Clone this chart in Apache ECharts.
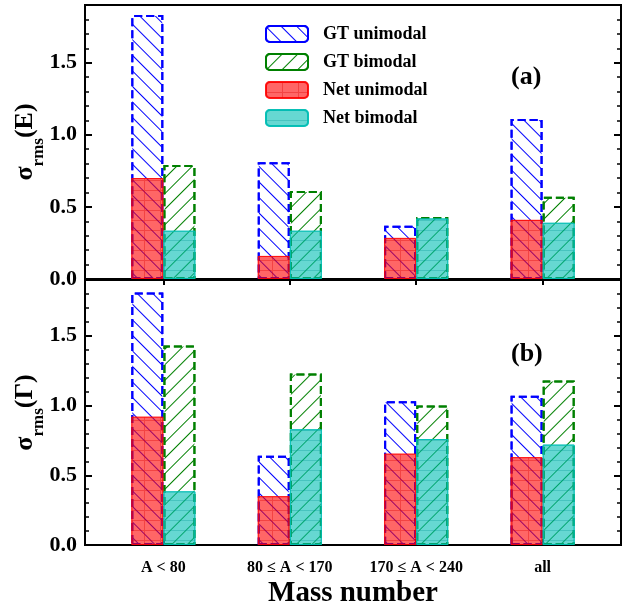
<!DOCTYPE html>
<html>
<head>
<meta charset="utf-8">
<script src="https://cdn.jsdelivr.net/npm/echarts@6/dist/echarts.min.js"></script>
<style>
  html, body { margin: 0; padding: 0; background: #fff; }
  #chart { width: 635px; height: 609px; }
</style>
</head>
<body>
<div id="chart"></div>
<script>
// mass ranges
const categories = ['A < 80', '80 ≤ A < 170', '170 ≤ A < 240', 'all'];

// panel (a): sigma_rms(E)
const gtUniE = [1.83, 0.81, 0.37, 1.11];
const gtBiE = [0.79, 0.61, 0.43, 0.57];
const netUniE = [0.70, 0.16, 0.285, 0.41];
const netBiE = [0.335, 0.335, 0.42, 0.39];

// panel (b): sigma_rms(Gamma)
const gtUniG = [1.81, 0.64, 1.03, 1.07];
const gtBiG = [1.43, 1.23, 1.00, 1.18];
const netUniG = [0.92, 0.35, 0.655, 0.63];
const netBiG = [0.385, 0.83, 0.76, 0.72];

const FONT = 'Liberation Serif';
const chart = echarts.init(document.getElementById('chart'));

const shift = 0.127;
const pts = (vals, dx) => vals.map((v, i) => [i + dx, v]);

const gtUniStyle = {
    color: 'rgba(255,255,255,0)',
    borderColor: '#0000ff',
    borderWidth: 2,
    borderType: [8, 4],
    decal: { symbol: 'rect', symbolSize: 1, color: '#0000ff', dashArrayX: [1, 0], dashArrayY: [1, 10], rotation: Math.PI / 4 }
};
const gtBiStyle = {
    color: 'rgba(255,255,255,0)',
    borderColor: '#008000',
    borderWidth: 2,
    borderType: [8, 4],
    decal: { symbol: 'rect', symbolSize: 1, color: '#008000', dashArrayX: [1, 0], dashArrayY: [1, 10], rotation: -Math.PI / 4 }
};
const netUniStyle = {
    color: 'rgba(255,0,0,0.6)',
    borderColor: 'rgba(255,0,0,0.7)',
    borderWidth: 1,
    decal: { symbol: 'path://M0,0H16V1H0Z M0,0H1V10H0Z', symbolSize: 1, symbolKeepAspect: false, color: 'rgba(220,0,0,0.35)', dashArrayX: [16, 0], dashArrayY: [10, 0] }
};
const netBiStyle = {
    color: 'rgba(0,190,180,0.6)',
    borderColor: 'rgba(0,190,180,0.8)',
    borderWidth: 1,
    decal: { symbol: 'rect', symbolSize: 1, color: 'rgba(0,150,150,0.3)', dashArrayX: [1, 0], dashArrayY: [1, 9] }
};

function barSeries(name, vals, dx, style, idx) {
    return {
        name: name,
        type: 'bar',
        xAxisIndex: idx,
        yAxisIndex: idx * 2,
        data: pts(vals, dx),
        barWidth: 32,
        barGap: '-100%',
        itemStyle: style,
        emphasis: { disabled: true },
        animation: false
    };
}

function yAxisFor(grid, right, title) {
    return {
        type: 'value',
        gridIndex: grid,
        position: right ? 'right' : 'left',
        min: 0,
        max: 1.9,
        interval: 0.5,
        axisLine: { show: true, onZero: false, lineStyle: { color: '#000', width: 2 } },
        axisTick: { show: true, inside: true, length: 7, lineStyle: { color: '#000', width: 2 } },
        minorTick: { show: true, splitNumber: 5, length: 4, lineStyle: { color: '#000', width: 1.5 } },
        splitLine: { show: false },
        axisLabel: {
            show: !right,
            showMaxLabel: false,
            margin: 8,
            color: '#000',
            fontFamily: FONT,
            fontWeight: 'bold',
            fontSize: 22,
            formatter: (v) => v.toFixed(1)
        },
        name: right ? '' : title,
        nameLocation: 'middle',
        nameGap: 43,
        nameMoveOverlap: false,
        nameRotate: 90,
        nameTextStyle: {
            color: '#000',
            fontFamily: FONT,
            fontWeight: 'bold',
            rich: {
                s: { fontSize: 26, fontFamily: FONT, fontWeight: 'bold', color: '#000', lineHeight: 30, verticalAlign: 'top' },
                sub: { fontSize: 17, fontFamily: FONT, fontWeight: 'bold', color: '#000', lineHeight: 17, padding: [18, 0, 0, 0], verticalAlign: 'top' }
            }
        }
    };
}

function xAxisFor(grid, bottom) {
    return {
        type: 'value',
        gridIndex: grid,
        min: -0.62,
        max: 3.62,
        axisLine: { show: true, onZero: false, lineStyle: { color: '#000', width: 2 } },
        axisTick: { show: true, inside: bottom, length: 6, lineStyle: { color: '#000', width: 2 }, customValues: [0, 1, 2, 3] },
        splitLine: { show: false },
        axisLabel: {
            show: bottom,
            customValues: [0, 1, 2, 3],
            margin: 15,
            color: '#000',
            fontFamily: FONT,
            fontWeight: 'bold',
            fontSize: 16,
            formatter: (v) => categories[Math.round(v)]
        },
        name: bottom ? 'Mass number' : '',
        nameLocation: 'middle',
        nameGap: 34,
        nameTextStyle: { color: '#000', fontFamily: FONT, fontWeight: 'bold', fontSize: 29 }
    };
}

const option = {
    animation: false,
    grid: [
        { left: 85, right: 14, top: 5, height: 274, show: true, borderColor: '#000', borderWidth: 2 },
        { left: 85, right: 14, top: 280, height: 275, show: true, borderColor: '#000', borderWidth: 2 }
    ],
    xAxis: [xAxisFor(0, false), xAxisFor(1, true)],
    yAxis: [
        yAxisFor(0, false, '{s|σ}{sub|rms}{s|(E)}'),
        yAxisFor(0, true),
        yAxisFor(1, false, '{s|σ}{sub|rms}{s|(Γ)}'),
        yAxisFor(1, true)
    ],
    legend: {
        orient: 'vertical',
        left: 260,
        top: 20,
        itemWidth: 42,
        itemHeight: 16,
        itemGap: 10,
        data: ['GT unimodal', 'GT bimodal', 'Net unimodal', 'Net bimodal'],
        textStyle: { color: '#000', fontFamily: FONT, fontWeight: 'bold', fontSize: 18, padding: [0, 0, 0, 10] }
    },
    graphic: [
        { type: 'text', left: 511, top: 64, style: { text: '(a)', font: 'bold 26px "Liberation Serif"', fill: '#000' } },
        { type: 'text', left: 511, top: 341, style: { text: '(b)', font: 'bold 26px "Liberation Serif"', fill: '#000' } }
    ],
    series: [
        barSeries('GT unimodal', gtUniE, -shift, gtUniStyle, 0),
        barSeries('GT bimodal', gtBiE, shift, gtBiStyle, 0),
        barSeries('Net unimodal', netUniE, -shift, netUniStyle, 0),
        barSeries('Net bimodal', netBiE, shift, netBiStyle, 0),
        barSeries('GT unimodal', gtUniG, -shift, gtUniStyle, 1),
        barSeries('GT bimodal', gtBiG, shift, gtBiStyle, 1),
        barSeries('Net unimodal', netUniG, -shift, netUniStyle, 1),
        barSeries('Net bimodal', netBiG, shift, netBiStyle, 1)
    ]
};

chart.setOption(option);
</script>
</body>
</html>
